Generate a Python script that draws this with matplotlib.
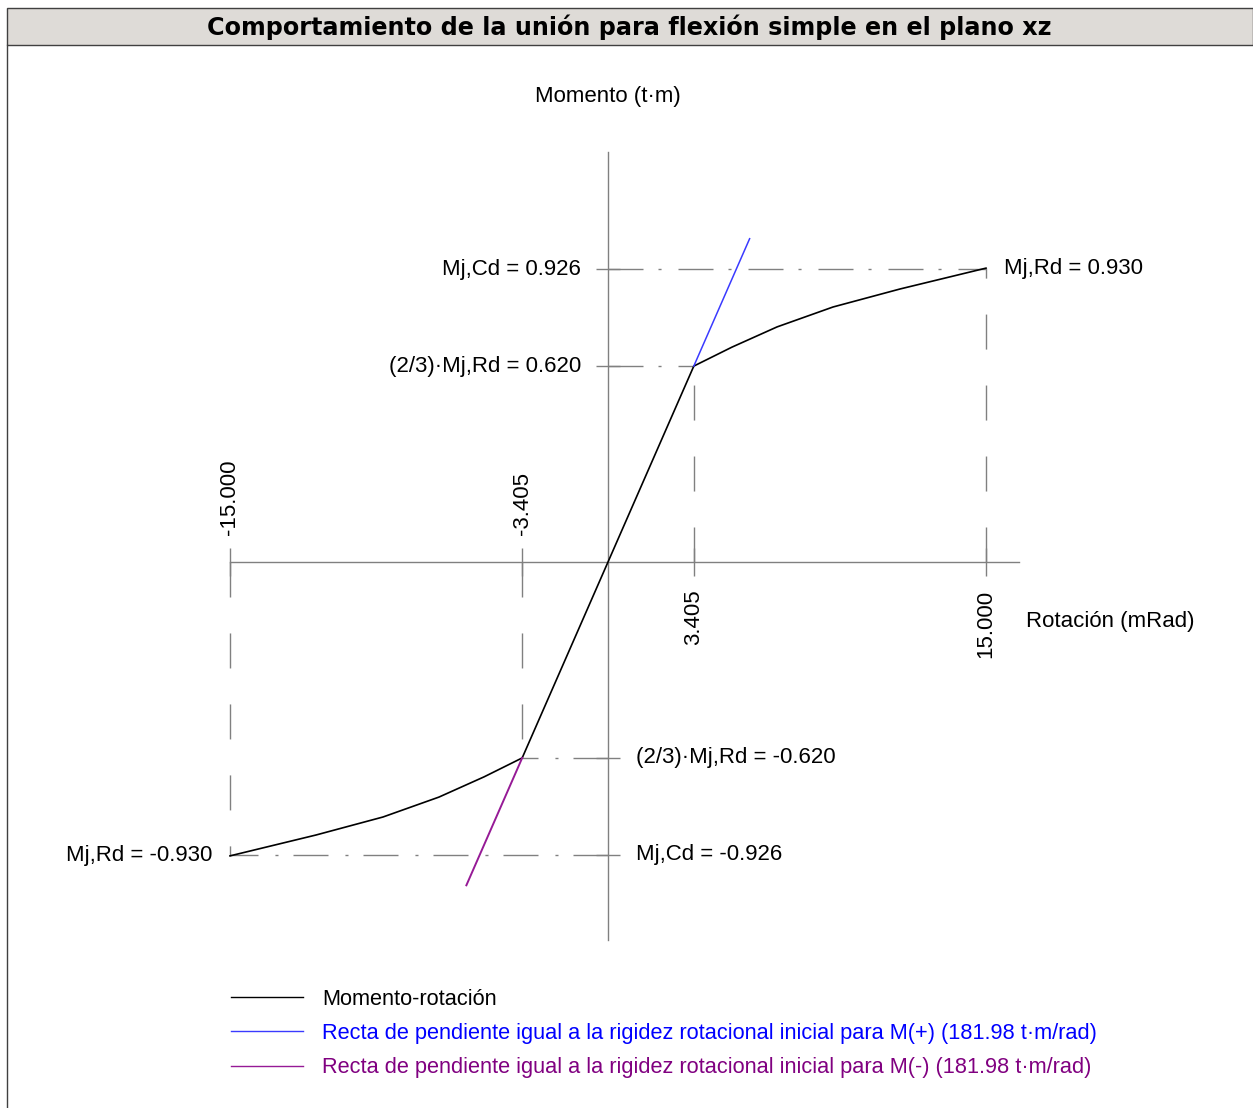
import matplotlib as mpl
mpl.use('Agg')
import matplotlib.pyplot as plt
from matplotlib.patches import Rectangle
from matplotlib.lines import Line2D

# moment-rotation curve (rotation in mRad, moment in t·m)
rot_pos = [0.0, 3.405, 4.92, 6.71, 8.93, 11.59, 15.0]
mom_pos = [0.0, 0.620, 0.680, 0.744, 0.807, 0.864, 0.930]
rot = [-r for r in rot_pos[:0:-1]] + rot_pos
mom = [-m for m in mom_pos[:0:-1]] + mom_pos

# initial stiffness lines
stiff_x_pos = [3.405, 5.62]
stiff_y_pos = [0.620, 0.620 + 0.18198 * (5.62 - 3.405)]
stiff_x_neg = [-x for x in stiff_x_pos]
stiff_y_neg = [-y for y in stiff_y_pos]

x_ticks = [-15.0, -3.405, 3.405, 15.0]
mj_cd = 0.926
mj_rd = 0.930
mj_el = 0.620
axis_x = (-15.0, 16.31)
axis_y = (-1.196, 1.297)

title = "Comportamiento de la unión para flexión simple en el plano xz"
legend_labels = ["Momento-rotación",
                 "Recta de pendiente igual a la rigidez rotacional inicial para M(+) (181.98 t·m/rad)",
                 "Recta de pendiente igual a la rigidez rotacional inicial para M(-) (181.98 t·m/rad)"]

BLUE = '#3a3aff'
PURPLE = '#961a96'
GRAY = '#808080'

plt.rcParams['font.family'] = ['Liberation Sans', 'DejaVu Sans']
W, H = 1253, 1108
fig = plt.figure(figsize=(W / 100, H / 100), dpi=100)

# axes fills the figure; origin at pixel (608, 562)
ax = fig.add_axes([0, 0, 1, 1])
sx, sy = 25.2, 316.0
ax.set_xlim(-608 / sx, (W - 608) / sx)
ax.set_ylim(-(H - 562) / sy, 562 / sy)
ax.axis('off')

# axes lines
ax.plot(axis_x, [0, 0], color=GRAY, lw=1)
ax.plot([0, 0], axis_y, color=GRAY, lw=1)

# dashed reference lines
dash = (0, (25.2, 25.9))
dashdot = (0, (25.2, 10.8, 2.2, 12.2))
for x, y in [(15.0, mj_rd), (3.405, mj_el), (-15.0, -mj_rd), (-3.405, -mj_el)]:
    ax.plot([x, x], [0, y], color=GRAY, lw=1, linestyle=dash)
for x, y in [(15.0, mj_cd), (3.405, mj_el), (-15.0, -mj_cd), (-3.405, -mj_el)]:
    ax.plot([0, x], [y, y], color=GRAY, lw=1, linestyle=dashdot)

# tick marks
ax.plot(x_ticks, [0] * len(x_ticks), linestyle='none', marker='|',
        markersize=19.5, markeredgewidth=1, color=GRAY)
ax.plot([0] * 4, [mj_cd, mj_el, -mj_el, -mj_cd], linestyle='none', marker='_',
        markersize=17.5, markeredgewidth=1, color=GRAY)

# curves
ax.plot(rot, mom, color='black', lw=1.2)
ax.plot(stiff_x_pos, stiff_y_pos, color=BLUE, lw=1.1)
ax.plot(stiff_x_neg, stiff_y_neg, color=PURPLE, lw=1.4)

fs = 16
for x in x_ticks:
    if x > 0:
        ax.annotate("%.3f" % x, (x, 0), xytext=(0, -20), textcoords='offset points',
                    rotation=90, ha='center', va='top', fontsize=fs)
    else:
        ax.annotate("%.3f" % x, (x, 0), xytext=(0, 19.5), textcoords='offset points',
                    rotation=90, ha='center', va='bottom', fontsize=fs)

ax.annotate("Mj,Cd = %.3f" % mj_cd, (0, mj_cd), xytext=(-19.5, 0),
            textcoords='offset points', ha='right', va='center', fontsize=fs)
ax.annotate("(2/3)·Mj,Rd = %.3f" % mj_el, (0, mj_el), xytext=(-19.5, 0),
            textcoords='offset points', ha='right', va='center', fontsize=fs)
ax.annotate("(2/3)·Mj,Rd = %.3f" % -mj_el, (0, -mj_el), xytext=(20, 0),
            textcoords='offset points', ha='left', va='center', fontsize=fs)
ax.annotate("Mj,Cd = %.3f" % -mj_cd, (0, -mj_cd), xytext=(20, 0),
            textcoords='offset points', ha='left', va='center', fontsize=fs)
ax.annotate("Mj,Rd = %.3f" % mj_rd, (15.0, mj_rd), xytext=(13, 0),
            textcoords='offset points', ha='left', va='center', fontsize=fs)
ax.annotate("Mj,Rd = %.3f" % -mj_rd, (-15.0, -mj_rd), xytext=(-13, 0),
            textcoords='offset points', ha='right', va='center', fontsize=fs)

ax.annotate("Momento (t·m)", (0, axis_y[1]), xytext=(0, 40),
            textcoords='offset points', ha='center', va='center', fontsize=fs)
ax.annotate("Rotación (mRad)", (axis_x[1], 0), xytext=(5, -43),
            textcoords='offset points', ha='left', va='center', fontsize=fs)

# legend
handles = [Line2D([], [], color='black', lw=1),
           Line2D([], [], color=BLUE, lw=1),
           Line2D([], [], color=PURPLE, lw=1)]
leg = ax.legend(handles, legend_labels, loc='upper left',
                bbox_to_anchor=(231 / W, 1 - 989 / H), bbox_transform=fig.transFigure,
                frameon=False, fontsize=15.7, handlelength=3.3, handletextpad=0.87,
                labelspacing=0.6, borderpad=0, borderaxespad=0,
                labelcolor=['black', '#0000ff', '#800080'])

# title bar and frame
fig.patches.append(Rectangle((7 / W, 1 - 45 / H), 1 - 7 / W, 37 / H,
                             transform=fig.transFigure, facecolor='#dedbd7',
                             edgecolor='#404040', lw=1))
fig.lines.append(Line2D([7 / W, 7 / W], [0, 1 - 45 / H], transform=fig.transFigure,
                        color='#404040', lw=1))
fig.text(629 / W, 1 - 27 / H, title, ha='center', va='center', fontsize=17.2,
         fontweight='bold', family='DejaVu Sans')

fig.savefig('out.png', dpi=100)
